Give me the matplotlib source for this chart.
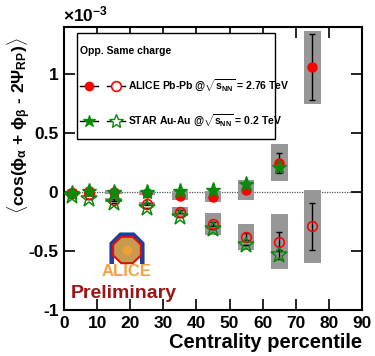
import matplotlib
matplotlib.use("Agg")
import matplotlib.pyplot as plt
from matplotlib.patches import Rectangle, RegularPolygon, Polygon
from matplotlib.lines import Line2D
import numpy as np

plt.rcParams['font.family'] = ['Liberation Sans', 'DejaVu Sans']
plt.rcParams['font.weight'] = 'bold'
plt.rcParams['mathtext.fontset'] = 'custom'
plt.rcParams['mathtext.rm'] = 'Liberation Sans:bold'
plt.rcParams['mathtext.bf'] = 'Liberation Sans:bold'
plt.rcParams['mathtext.it'] = 'Liberation Sans:bold'
plt.rcParams['mathtext.sf'] = 'Liberation Sans:bold'

# ---- data (values in units of 1e-3) ----
centrality = [2.5, 7.5, 15, 25, 35, 45, 55, 65, 75]
box_width = [3, 3, 5, 5, 5, 5, 5, 5, 5]

alice_same = [-0.01, 0.005, 0.0, -0.01, -0.03, -0.04, 0.02, 0.25, 1.06]
alice_same_stat = [0.005, 0.008, 0.008, 0.01, 0.012, 0.015, 0.03, 0.085, 0.28]
alice_same_sys = [0.04, 0.02, 0.015, 0.015, 0.04, 0.045, 0.085, 0.155, 0.31]

alice_opp = [-0.01, -0.02, -0.065, -0.1, -0.165, -0.27, -0.38, -0.42, -0.29]
alice_opp_stat = [0.005, 0.008, 0.008, 0.01, 0.012, 0.015, 0.03, 0.08, 0.2]
alice_opp_sys = [0.04, 0.02, 0.017, 0.02, 0.04, 0.095, 0.11, 0.235, 0.31]

star_cent = [2.5, 7.5, 15, 25, 35, 45, 55, 65]
star_same = [-0.01, 0.005, 0.0, 0.0, 0.005, 0.02, 0.065, 0.21]
star_opp = [-0.03, -0.055, -0.09, -0.135, -0.215, -0.315, -0.45, -0.53]
star_opp_stat = [0.0, 0.0, 0.0, 0.0, 0.0, 0.0, 0.0, 0.04]

xticks = [0, 10, 20, 30, 40, 50, 60, 70, 80, 90]
yticks = [-1, -0.5, 0, 0.5, 1]
ytick_labels = ['-1', '-0.5', '0', '0.5', '1']

W, H = 375, 356
fig = plt.figure(figsize=(W / 100, H / 100), dpi=100)
L, R, T, B = 64, 362, 27, 310
ax = fig.add_axes([L / W, (H - B) / H, (R - L) / W, (B - T) / H])
ax.set_xlim(0, 90)
ax.set_ylim(-1, 1.4)

grey = '#979797'
# systematic boxes
for x, w, y, s in zip(centrality, box_width, alice_same, alice_same_sys):
    ax.add_patch(Rectangle((x - w / 2, y - s), w, 2 * s, facecolor=grey, edgecolor='none', zorder=1))
for x, w, y, s in zip(centrality, box_width, alice_opp, alice_opp_sys):
    ax.add_patch(Rectangle((x - w / 2, y - s), w, 2 * s, facecolor=grey, edgecolor='none', zorder=1))

ax.axhline(0, color='#555555', lw=0.9, ls=(0, (1, 1)), zorder=0.5)

# stat errors
ax.errorbar(centrality, alice_same, yerr=alice_same_stat, fmt='none', ecolor='black', elinewidth=1, capsize=2, zorder=2)
ax.errorbar(centrality, alice_opp, yerr=alice_opp_stat, fmt='none', ecolor='black', elinewidth=1, capsize=2, zorder=2)
ax.errorbar(star_cent, star_opp, yerr=star_opp_stat, fmt='none', ecolor='black', elinewidth=1, capsize=2, zorder=2)

# markers
ax.plot(centrality, alice_same, 'o', color='#ff0000', ms=6.5, zorder=3, ls='none')
ax.plot(centrality, alice_opp, 'o', mfc='none', mec='#ff0000', mew=1.2, ms=7, zorder=3, ls='none')
ax.plot(star_cent, star_same, '*', color='#0a8a0a', ms=11, zorder=4, ls='none')
ax.plot(star_cent, star_opp, '*', mfc='none', mec='#0a8a0a', mew=1.1, ms=12, zorder=4, ls='none')

ax.set_xticks(xticks)
ax.set_xticklabels([str(t) for t in xticks])
ax.set_yticks(yticks)
ax.set_yticklabels(ytick_labels)
ax.tick_params(direction='in', length=8, width=1.2, top=True, right=True, labelsize=12.5, pad=4)
for lab in ax.get_xticklabels() + ax.get_yticklabels():
    lab.set_fontweight('bold')
for sp in ax.spines.values():
    sp.set_linewidth(1.5)

def P(x, y):
    return (x / W, (H - y) / H)

fig.text(*P(362, 343), 'Centrality percentile', ha='right', va='center', fontsize=14.5, fontweight='bold')
fig.text(*P(19, 126), r'$\langle$cos($\phi_{\alpha}$ + $\phi_{\beta}$ - 2$\Psi_{RP}$)$\rangle$',
         rotation=90, ha='center', va='center', fontsize=12.5, fontweight='bold')
fig.text(*P(63, 14), r'$\times$10$^{-3}$', ha='left', va='center', fontsize=12.5, fontweight='bold')

# legend (manual)
bx0, by0, bx1, by1 = 77, 33, 275, 139
lx, ly = P(bx0, by1)
lw_, lh_ = (bx1 - bx0) / W, (by1 - by0) / H
fig.patches.append(Rectangle((lx, ly), lw_, lh_, transform=fig.transFigure, facecolor='white',
                             edgecolor='black', lw=1.0, zorder=5))
fig.text(*P(80, 51), 'Opp. Same charge', ha='left', va='center', fontsize=7.5, fontweight='bold', zorder=6)
rows = [(86, 'o', '#ff0000', 6, 1.2, r'ALICE Pb-Pb @$\sqrt{s_{NN}}$ = 2.76 TeV'),
        (121, '*', '#0a8a0a', 9, 1.0, r'STAR Au-Au @$\sqrt{s_{NN}}$ = 0.2 TeV')]
for yy, mk, col, ms, mew, label in rows:
    for cx, filled in [(89, True), (116, False)]:
        x0, y0 = P(cx - 9, yy)
        x1, _ = P(cx + 9, yy)
        fig.add_artist(Line2D([x0, x1], [y0, y0], transform=fig.transFigure, color='black', lw=1, zorder=6))
        xm, ym = P(cx, yy)
        if filled:
            fig.add_artist(Line2D([xm], [ym], transform=fig.transFigure, marker=mk, color=col, ms=ms, ls='none', zorder=7))
        else:
            fig.add_artist(Line2D([xm], [ym], transform=fig.transFigure, marker=mk, mfc='white', mec=col, mew=mew,
                                  ms=ms + 1, ls='none', zorder=7))
    fig.text(*P(128, yy), label, ha='left', va='center', fontsize=7.5, fontweight='bold', zorder=7)

# ALICE logo approximation (frame + octagon)
lcx, lcy = 127, 250
ang = np.deg2rad(np.linspace(-22.5, 202.5, 6))
outer = [P(lcx + 19 * np.cos(a), lcy - 19 * np.sin(a)) for a in ang]
inner = [P(lcx + 14 * np.cos(a), lcy - 14 * np.sin(a)) for a in ang[::-1]]
outer = [P(lcx + 19 * np.cos(ang[0]), lcy + 14)] + outer + [P(lcx + 19 * np.cos(ang[-1]), lcy + 14)]
inner = [P(lcx + 14 * np.cos(ang[-1]), lcy + 14)] + inner + [P(lcx + 14 * np.cos(ang[0]), lcy + 14)]
fig.add_artist(Polygon(outer + inner, closed=True, transform=fig.transFigure,
                       facecolor='#1f3d9a', edgecolor='none', zorder=3))
fig.add_artist(RegularPolygon(P(lcx, lcy), numVertices=8, radius=15 / W, orientation=np.pi / 8,
                              transform=fig.transFigure, facecolor='#c89a50', edgecolor='#e01010', lw=1.5, zorder=4))
fig.add_artist(Line2D([P(lcx, lcy)[0]], [P(lcx, lcy)[1]], transform=fig.transFigure, marker='o',
                      color='#f0a030', ms=6, ls='none', zorder=5))
fig.text(*P(127, 272), 'ALICE', ha='center', va='center', fontsize=12, color='#f7a040', fontweight='bold')
fig.text(*P(124, 293), 'Preliminary', ha='center', va='center', fontsize=14, color='#9a1414', fontweight='bold')

fig.savefig('out.png', dpi=100)
